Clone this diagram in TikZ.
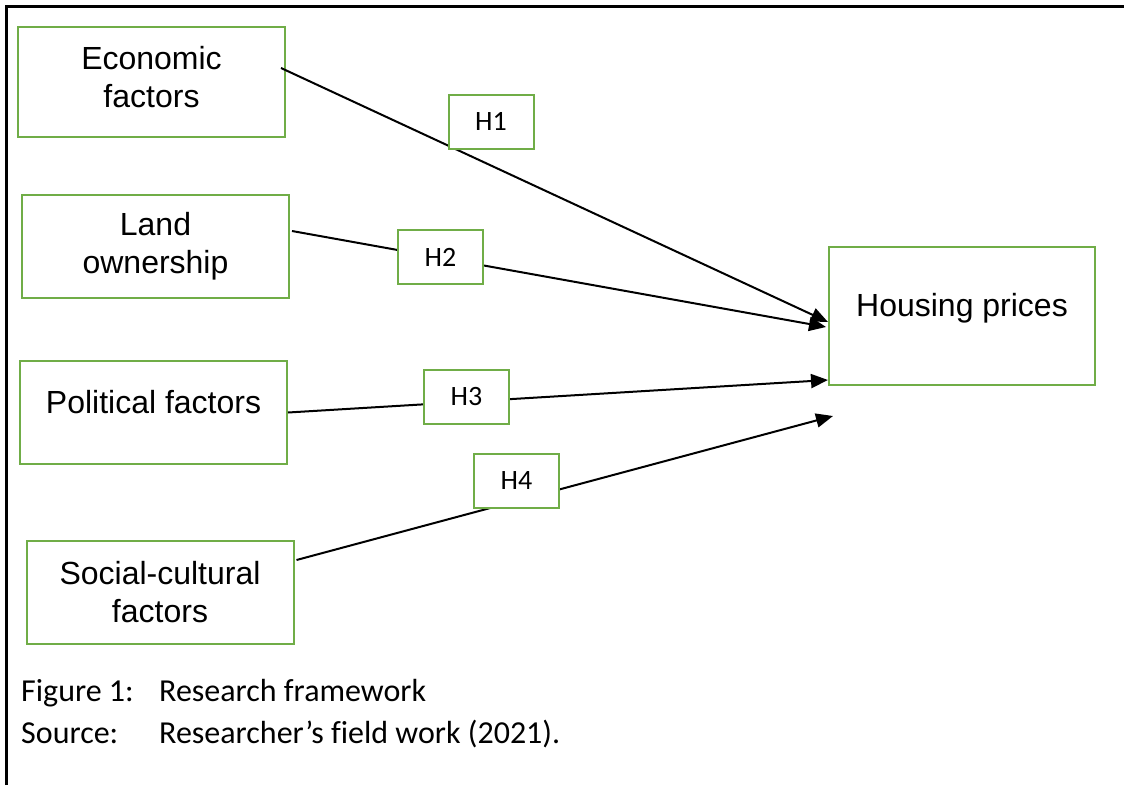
\documentclass[tikz,border=0pt]{standalone}
\usepackage{fontspec}
\setmainfont{Liberation Sans}
\newfontfamily\calibfont[Ligatures=CommonOff]{Carlito}
\usetikzlibrary{arrows.meta}
\definecolor{boxgreen}{HTML}{70AD47}
\begin{document}
\begin{tikzpicture}[x=1pt,y=-1pt,
  bigbox/.style={draw=boxgreen,line width=2pt,fill=white,minimum width=267pt,minimum height=103pt,align=center,font=\fontsize{32}{38}\selectfont,inner sep=0pt},
  hbox/.style={draw=boxgreen,line width=2pt,fill=white,minimum width=85pt,minimum height=54pt,font=\calibfont\fontsize{28}{34}\selectfont,inner sep=0pt},
  link/.style={line width=2pt,-{Triangle[length=17pt,width=14pt]}},
  captext/.style={font=\calibfont\fontsize{32}{38}\selectfont,anchor=base west,inner sep=0pt},
  frame/.style={line width=2.5pt,line join=miter}]
\useasboundingbox (0,0) rectangle (1124,785);
\draw[frame] (6.5,785) -- (6.5,6.5) -- (1124,6.5);

\node[bigbox,minimum height=110pt,text depth=10pt] (eco) at (151.5,82) {Economic\\factors};
\node[bigbox] (land) at (155.5,246.5) {Land\\ownership};
\node[bigbox,text depth=22pt] (pol) at (153.5,412.5) {Political factors};
\node[bigbox] (soc) at (160,592.5) {Social-cultural\\factors};
\node[bigbox,minimum width=266pt,minimum height=138pt,text depth=22pt] (house) at (962,316) {Housing prices};

\coordinate (t1) at ([yshift=-6pt]house.west);
\coordinate (t2) at ([xshift=-2pt,yshift=-11pt]house.west);
\coordinate (t3) at ([yshift=6pt]house.south west);
\coordinate (t4) at ([xshift=5pt,yshift=-30pt]house.south west);

\draw[link] ([xshift=-5pt,yshift=14pt]eco.east) -- (t1);
\draw[link] ([xshift=2pt,yshift=15.5pt]land.east) -- (t2);
\draw[link] (pol.east) -- (t3);
\draw[link] ([xshift=2pt,yshift=32.5pt]soc.east) -- (t4);

\node[hbox] (h1) at (491,121.5) {H1};
\node[hbox] (h2) at (440.5,257) {H2};
\node[hbox] (h3) at (466.5,397) {H3};
\node[hbox] (h4) at (516.5,480.5) {H4};

\node[captext] (fig) at (21,701) {Figure 1:};
\node[captext] (figt) at (159,701) {Research framework};
\node[captext] (src) at (21,743) {Source:};
\node[captext] (srct) at (159,743) {Researcher’s field work (2021).};
\end{tikzpicture}
\end{document}
